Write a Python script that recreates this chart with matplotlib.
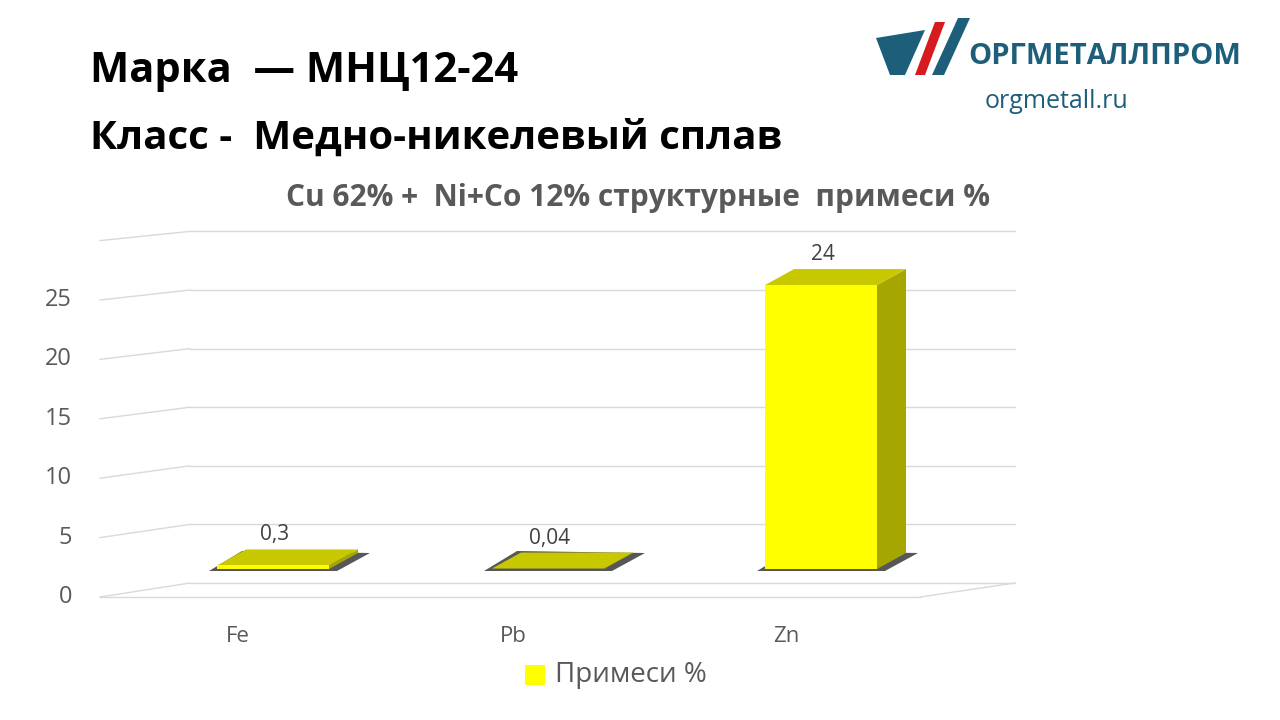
import matplotlib.pyplot as plt
from matplotlib.patches import Polygon, Rectangle

plt.rcParams['font.family'] = ['Open Sans', 'DejaVu Sans']

categories = ["Fe", "Pb", "Zn"]
values = [0.3, 0.04, 24]
value_labels = ["0,3", "0,04", "24"]
ticks = [0, 5, 10, 15, 20, 25]
grid_levels = [0, 5, 10, 15, 20, 25, 30]

fig = plt.figure(figsize=(12.8, 7.2), dpi=100)
ax = fig.add_axes([0, 0, 1, 1])
ax.set_xlim(0, 1280)
ax.set_ylim(720, 0)
ax.axis("off")

# pseudo-3D scales (pixel space)
front_y0, front_px = 597, 11.88     # front plane: value -> y
back_y0, back_px = 583, 11.72       # back wall
front_x = (100, 920)
back_x = (190, 1015)

def fy(v):
    return front_y0 - v * front_px

def by(v):
    return back_y0 - v * back_px

grid_c = "#d9d9d9"
for g in grid_levels:
    ax.plot([back_x[0], back_x[1]], [by(g), by(g)], color=grid_c, lw=1)
    ax.plot([front_x[0], back_x[0]], [fy(g), by(g)], color=grid_c, lw=1)
ax.plot([front_x[0], front_x[1]], [fy(0), fy(0)], color=grid_c, lw=1)
ax.plot([front_x[1], back_x[1]], [fy(0), by(0)], color=grid_c, lw=1)

for t in ticks:
    ax.text(72, fy(t), str(t), ha="right", va="center", fontsize=17, color="#595959")

# bars
centers = [273, 548, 821]
half_w = 56
bar_base = 569
bar_px = 11.83
dx, dy = 29, -16
for c, v, lab, cat in zip(centers, values, value_labels, categories):
    x0, x1 = c - half_w, c + half_w
    top = bar_base - v * bar_px
    # shadow
    ax.add_patch(Polygon([(x0 - 8, bar_base + 2), (x1 + 8, bar_base + 2),
                          (x1 + dx + 12, bar_base + dy), (x0 + dx - 4, bar_base + dy - 2)],
                         closed=True, color="#3a3a3a", alpha=0.85, lw=0, zorder=2))
    ax.add_patch(Polygon([(x1, bar_base), (x1 + dx, bar_base + dy), (x1 + dx, top + dy), (x1, top)],
                         closed=True, color="#a6a600", lw=0, zorder=3))
    ax.add_patch(Polygon([(x0, top), (x1, top), (x1 + dx, top + dy), (x0 + dx, top + dy)],
                         closed=True, color="#c8c800", lw=0, zorder=3))
    ax.add_patch(Rectangle((x0, top), x1 - x0, bar_base - top, color="#ffff00", lw=0, zorder=4))
    ax.text(c + 2, top + dy - 4, lab, ha="center", va="bottom", fontsize=15, color="#404040", zorder=5)
    ax.text(c - 35, 637, cat, ha="center", va="center", fontsize=16, color="#595959")

# titles
ax.text(90, 72, "Марка  — МНЦ12-24", fontsize=30, fontweight="bold", va="center", color="black")
ax.text(90, 138, "Класс -  Медно-никелевый сплав", fontsize=29, fontweight="bold", va="center", color="black")
ax.text(638, 198, "Cu 62% +  Ni+Co 12% структурные  примеси %", fontsize=21.5, fontweight="bold",
        ha="center", va="center", color="#595959")

# legend
ax.add_patch(Rectangle((525, 665), 20, 20, color="#ffff00", lw=0))
ax.text(555, 675, "Примеси %", fontsize=20, va="center", color="#595959")

# logo
ax.add_patch(Polygon([(876, 38), (925, 30), (905, 75), (890, 75)], closed=True, color="#1d5f7a", lw=0))
ax.add_patch(Polygon([(915, 75), (935, 22), (945, 22), (925, 75)], closed=True, color="#d71920", lw=0))
ax.add_patch(Polygon([(932, 75), (958, 18), (970, 18), (944, 75)], closed=True, color="#1d5f7a", lw=0))
ax.text(968, 57, "ОРГМЕТАЛЛПРОМ", fontsize=21, fontweight="bold", va="center", color="#1d5f7a")
ax.text(985, 101, "orgmetall.ru", fontsize=18, va="center", color="#1d5f7a")

fig.savefig("out.png", dpi=100)
